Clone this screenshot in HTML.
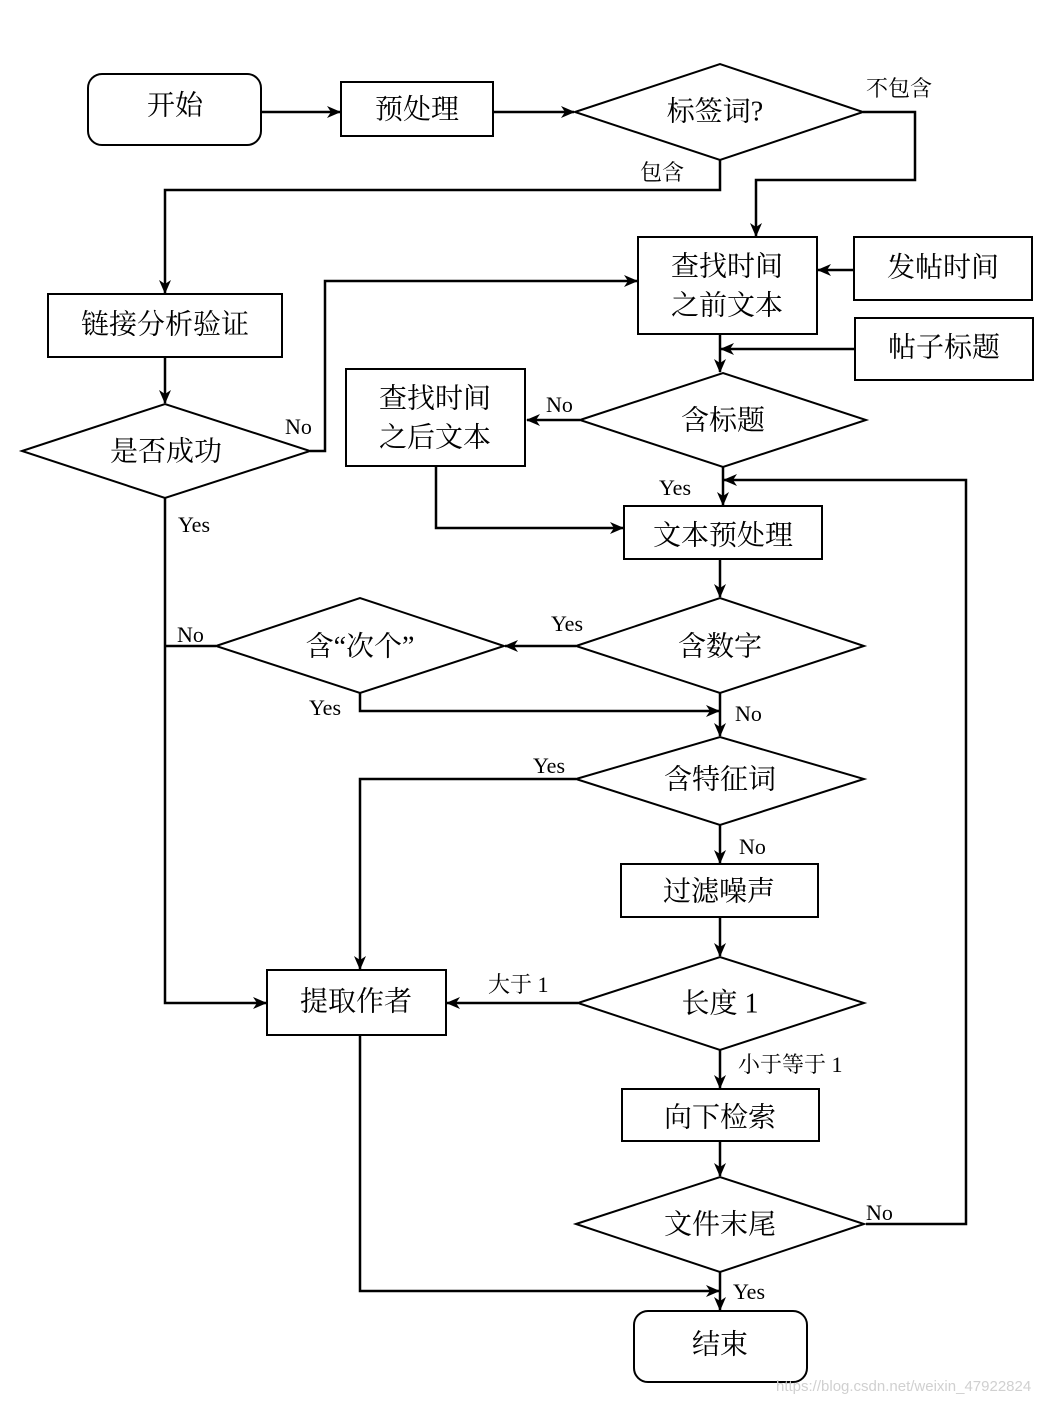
<!DOCTYPE html>
<html><head><meta charset="utf-8"><style>
html,body{margin:0;padding:0;background:#fff;}
svg{display:block;}
text{font-family:"Liberation Serif","Noto Serif CJK SC",serif;fill:#000;}
.b{font-size:28px;text-anchor:middle;dominant-baseline:central;}
.l{font-size:22px;}
</style></head><body>
<svg width="1058" height="1402" viewBox="0 0 1058 1402" xmlns="http://www.w3.org/2000/svg">
<defs><marker id="a" markerWidth="14" markerHeight="12" refX="13" refY="6" orient="auto" markerUnits="userSpaceOnUse"><path d="M0,0 L14,6 L0,12 L4,6 Z" fill="#000"/></marker></defs>
<g fill="none" stroke="#000" stroke-width="2">
<rect x="88" y="74" width="173" height="71" rx="14"/>
<rect x="341" y="82" width="152" height="54"/>
<polygon points="575,112 720,64 863,112 720,160"/>
<rect x="638" y="237" width="179" height="97"/>
<rect x="854" y="237" width="178" height="63"/>
<rect x="855" y="318" width="178" height="62"/>
<rect x="48" y="294" width="234" height="63"/>
<polygon points="22,451 165,404 310,451 165,498"/>
<polygon points="580,420 723,373 866,420 723,467"/>
<rect x="346" y="369" width="179" height="97"/>
<rect x="624" y="506" width="198" height="53"/>
<polygon points="576,646 720,598 864,646 720,693"/>
<polygon points="216,646 360,598 504,646 360,693"/>
<polygon points="576,779 720,737 864,779 720,825"/>
<rect x="621" y="864" width="197" height="53"/>
<polygon points="578,1003 720,957 864,1003 720,1050"/>
<rect x="267" y="970" width="179" height="65"/>
<rect x="622" y="1089" width="197" height="52"/>
<polygon points="576,1224 720,1177 864,1224 720,1272"/>
<rect x="634" y="1311" width="173" height="71" rx="14"/>
</g>
<g fill="none" stroke="#000" stroke-width="2.5" marker-end="url(#a)">
<path d="M261,112 H340"/>
<path d="M493,112 H574"/>
<path d="M863,112 H915 V180 H756 V236"/>
<path d="M720,160 V190 H165 V293"/>
<path d="M854,270 H818"/>
<path d="M855,349 H721"/>
<path d="M720,334 V372"/>
<path d="M165,357 V403"/>
<path d="M310,451 H325 V281 H637"/>
<path d="M580,420 H527"/>
<path d="M436,466 V528 H623"/>
<path d="M723,467 V505"/>
<path d="M866,1224 H966 V480 H724"/>
<path d="M720,559 V597"/>
<path d="M576,646 H505"/>
<path d="M216,646 H165 M165,498 V1003 H266"/>
<path d="M360,693 V711 H719"/>
<path d="M720,693 V736"/>
<path d="M576,779 H360 V969"/>
<path d="M720,825 V863"/>
<path d="M720,917 V956"/>
<path d="M578,1003 H447"/>
<path d="M720,1050 V1088"/>
<path d="M720,1141 V1176"/>
<path d="M360,1035 V1291 H719"/>
<path d="M720,1272 V1310"/>
</g>
<text class="b" x="175" y="106">开始</text>
<text class="b" x="417" y="110">预处理</text>
<text class="b" x="715" y="112">标签词?</text>
<text class="b" x="727" y="267">查找时间</text>
<text class="b" x="727" y="306">之前文本</text>
<text class="b" x="943" y="268">发帖时间</text>
<text class="b" x="944" y="348">帖子标题</text>
<text class="b" x="165" y="325">链接分析验证</text>
<text class="b" x="166" y="452">是否成功</text>
<text class="b" x="723" y="421">含标题</text>
<text class="b" x="435" y="399">查找时间</text>
<text class="b" x="435" y="438">之后文本</text>
<text class="b" x="723" y="536">文本预处理</text>
<text class="b" x="720" y="647">含数字</text>
<text class="b" x="360" y="647">含“次个”</text>
<text class="b" x="720" y="780">含特征词</text>
<text class="b" x="719" y="892">过滤噪声</text>
<text class="b" x="720" y="1004">长度 1</text>
<text class="b" x="356" y="1002">提取作者</text>
<text class="b" x="720" y="1118">向下检索</text>
<text class="b" x="720" y="1225">文件末尾</text>
<text class="b" x="720" y="1345">结束</text>
<text class="l" x="866" y="96">不包含</text>
<text class="l" x="640" y="180">包含</text>
<text class="l" x="285" y="434">No</text>
<text class="l" x="178" y="532">Yes</text>
<text class="l" x="546" y="412">No</text>
<text class="l" x="659" y="495">Yes</text>
<text class="l" x="551" y="631">Yes</text>
<text class="l" x="177" y="642">No</text>
<text class="l" x="309" y="715">Yes</text>
<text class="l" x="735" y="721">No</text>
<text class="l" x="533" y="773">Yes</text>
<text class="l" x="739" y="854">No</text>
<text class="l" x="488" y="992">大于 1</text>
<text class="l" x="738" y="1072">小于等于 1</text>
<text class="l" x="866" y="1220">No</text>
<text class="l" x="733" y="1299">Yes</text>
<text x="776" y="1391" style="font-family:'Liberation Sans',sans-serif;font-size:15px;fill:#d0d0d0;">https://blog.csdn.net/weixin_47922824</text>
</svg>
</body></html>
